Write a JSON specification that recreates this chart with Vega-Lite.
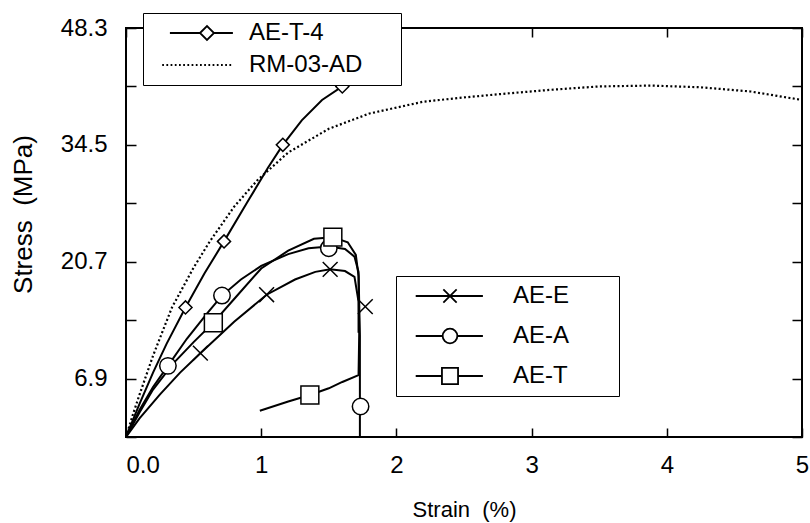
{
  "$schema": "https://vega.github.io/schema/vega-lite/v6.json",
  "width": 676,
  "height": 409,
  "autosize": {"type": "none"},
  "padding": {"left": 126, "top": 28, "right": 8, "bottom": 86},
  "background": "white",
  "config": {
    "view": {"stroke": "black", "strokeWidth": 2},
    "font": "Liberation Sans",
    "axis": {"domain": false, "ticks": false, "grid": true, "gridColor": "black", "gridOpacity": 1, "gridWidth": 1.5, "labelColor": "black", "titleColor": "black", "labelFont": "Liberation Sans", "titleFont": "Liberation Sans", "labelFontSize": 24, "titleFontSize": 22, "titleFontWeight": "normal", "labelFlush": false, "labelOverlap": false}
  },
  "datasets": {
    "curves": [
      {"series": "AE-T-4", "i": 0, "strain": 0, "stress": 0},
      {"series": "AE-T-4", "i": 1, "strain": 0.1, "stress": 3.9},
      {"series": "AE-T-4", "i": 2, "strain": 0.2, "stress": 7.6},
      {"series": "AE-T-4", "i": 3, "strain": 0.3, "stress": 11.0},
      {"series": "AE-T-4", "i": 4, "strain": 0.44, "stress": 15.3},
      {"series": "AE-T-4", "i": 5, "strain": 0.58, "stress": 19.3},
      {"series": "AE-T-4", "i": 6, "strain": 0.725, "stress": 23.1},
      {"series": "AE-T-4", "i": 7, "strain": 0.9, "stress": 27.8},
      {"series": "AE-T-4", "i": 8, "strain": 1.05, "stress": 31.8},
      {"series": "AE-T-4", "i": 9, "strain": 1.16, "stress": 34.5},
      {"series": "AE-T-4", "i": 10, "strain": 1.3, "stress": 37.4},
      {"series": "AE-T-4", "i": 11, "strain": 1.45, "stress": 39.8},
      {"series": "AE-T-4", "i": 12, "strain": 1.6, "stress": 41.4},
      {"series": "AE-T-4", "i": 13, "strain": 1.72, "stress": 42.1},
      {"series": "RM-03-AD", "i": 0, "strain": 0, "stress": 0},
      {"series": "RM-03-AD", "i": 1, "strain": 0.05, "stress": 2.6},
      {"series": "RM-03-AD", "i": 2, "strain": 0.1, "stress": 5.0},
      {"series": "RM-03-AD", "i": 3, "strain": 0.2, "stress": 9.6},
      {"series": "RM-03-AD", "i": 4, "strain": 0.34, "stress": 15.3},
      {"series": "RM-03-AD", "i": 5, "strain": 0.5, "stress": 20.0},
      {"series": "RM-03-AD", "i": 6, "strain": 0.62, "stress": 23.1},
      {"series": "RM-03-AD", "i": 7, "strain": 0.8, "stress": 27.2},
      {"series": "RM-03-AD", "i": 8, "strain": 0.97, "stress": 30.3},
      {"series": "RM-03-AD", "i": 9, "strain": 1.2, "stress": 33.6},
      {"series": "RM-03-AD", "i": 10, "strain": 1.5, "stress": 36.4},
      {"series": "RM-03-AD", "i": 11, "strain": 1.8, "stress": 38.2},
      {"series": "RM-03-AD", "i": 12, "strain": 2.2, "stress": 39.6},
      {"series": "RM-03-AD", "i": 13, "strain": 2.5, "stress": 40.1},
      {"series": "RM-03-AD", "i": 14, "strain": 2.77, "stress": 40.5},
      {"series": "RM-03-AD", "i": 15, "strain": 3.14, "stress": 41.0},
      {"series": "RM-03-AD", "i": 16, "strain": 3.5, "stress": 41.4},
      {"series": "RM-03-AD", "i": 17, "strain": 3.88, "stress": 41.5},
      {"series": "RM-03-AD", "i": 18, "strain": 4.25, "stress": 41.3},
      {"series": "RM-03-AD", "i": 19, "strain": 4.62, "stress": 40.8},
      {"series": "RM-03-AD", "i": 20, "strain": 5.0, "stress": 39.8},
      {"series": "AE-E", "i": 0, "strain": 0, "stress": 0},
      {"series": "AE-E", "i": 1, "strain": 0.1, "stress": 2.2},
      {"series": "AE-E", "i": 2, "strain": 0.25, "stress": 5.0},
      {"series": "AE-E", "i": 3, "strain": 0.4, "stress": 7.6},
      {"series": "AE-E", "i": 4, "strain": 0.55, "stress": 9.9},
      {"series": "AE-E", "i": 5, "strain": 0.8, "stress": 13.6},
      {"series": "AE-E", "i": 6, "strain": 1.04, "stress": 16.8},
      {"series": "AE-E", "i": 7, "strain": 1.25, "stress": 18.6},
      {"series": "AE-E", "i": 8, "strain": 1.4, "stress": 19.5},
      {"series": "AE-E", "i": 9, "strain": 1.51, "stress": 19.8},
      {"series": "AE-E", "i": 10, "strain": 1.62, "stress": 19.6},
      {"series": "AE-E", "i": 11, "strain": 1.69, "stress": 18.9},
      {"series": "AE-E", "i": 12, "strain": 1.72, "stress": 16.0},
      {"series": "AE-E", "i": 13, "strain": 1.72, "stress": 12.3},
      {"series": "AE-A", "i": 0, "strain": 0, "stress": 0},
      {"series": "AE-A", "i": 1, "strain": 0.1, "stress": 3.2},
      {"series": "AE-A", "i": 2, "strain": 0.2, "stress": 5.9},
      {"series": "AE-A", "i": 3, "strain": 0.31, "stress": 8.4},
      {"series": "AE-A", "i": 4, "strain": 0.45, "stress": 11.6},
      {"series": "AE-A", "i": 5, "strain": 0.6, "stress": 14.6},
      {"series": "AE-A", "i": 6, "strain": 0.71, "stress": 16.7},
      {"series": "AE-A", "i": 7, "strain": 0.85, "stress": 18.6},
      {"series": "AE-A", "i": 8, "strain": 1.0, "stress": 20.2},
      {"series": "AE-A", "i": 9, "strain": 1.2, "stress": 21.6},
      {"series": "AE-A", "i": 10, "strain": 1.35, "stress": 22.3},
      {"series": "AE-A", "i": 11, "strain": 1.5, "stress": 22.5},
      {"series": "AE-A", "i": 12, "strain": 1.62, "stress": 22.2},
      {"series": "AE-A", "i": 13, "strain": 1.69, "stress": 21.3},
      {"series": "AE-A", "i": 14, "strain": 1.72, "stress": 19.5},
      {"series": "AE-A", "i": 15, "strain": 1.73, "stress": 12.0},
      {"series": "AE-A", "i": 16, "strain": 1.73, "stress": 0},
      {"series": "AE-T", "i": 0, "strain": 0, "stress": 0},
      {"series": "AE-T", "i": 1, "strain": 0.1, "stress": 2.9},
      {"series": "AE-T", "i": 2, "strain": 0.2, "stress": 5.6},
      {"series": "AE-T", "i": 3, "strain": 0.35, "stress": 8.7},
      {"series": "AE-T", "i": 4, "strain": 0.5, "stress": 11.2},
      {"series": "AE-T", "i": 5, "strain": 0.646, "stress": 13.5},
      {"series": "AE-T", "i": 6, "strain": 0.8, "stress": 16.3},
      {"series": "AE-T", "i": 7, "strain": 1.0, "stress": 19.9},
      {"series": "AE-T", "i": 8, "strain": 1.2, "stress": 22.0},
      {"series": "AE-T", "i": 9, "strain": 1.39, "stress": 23.4},
      {"series": "AE-T", "i": 10, "strain": 1.53, "stress": 23.6},
      {"series": "AE-T", "i": 11, "strain": 1.64, "stress": 23.0},
      {"series": "AE-T", "i": 12, "strain": 1.7, "stress": 21.5},
      {"series": "AE-T", "i": 13, "strain": 1.72, "stress": 19.0},
      {"series": "AE-T", "i": 14, "strain": 1.725, "stress": 12.2},
      {"series": "AE-T", "i": 15, "strain": 1.72, "stress": 7.3},
      {"series": "AE-T", "i": 16, "strain": 1.6, "stress": 6.5},
      {"series": "AE-T", "i": 17, "strain": 1.5, "stress": 5.75},
      {"series": "AE-T", "i": 18, "strain": 1.36, "stress": 4.96},
      {"series": "AE-T", "i": 19, "strain": 1.2, "stress": 4.2},
      {"series": "AE-T", "i": 20, "strain": 0.99, "stress": 3.1}
    ],
    "markers": [
      {"series": "AE-T-4", "strain": 0.44, "stress": 15.3},
      {"series": "AE-T-4", "strain": 0.725, "stress": 23.1},
      {"series": "AE-T-4", "strain": 1.16, "stress": 34.5},
      {"series": "AE-T-4", "strain": 1.6, "stress": 41.4},
      {"series": "AE-E", "strain": 0.55, "stress": 9.9},
      {"series": "AE-E", "strain": 1.04, "stress": 16.8},
      {"series": "AE-E", "strain": 1.51, "stress": 19.8},
      {"series": "AE-E", "strain": 1.77, "stress": 15.4},
      {"series": "AE-A", "strain": 0.31, "stress": 8.4},
      {"series": "AE-A", "strain": 0.71, "stress": 16.7},
      {"series": "AE-A", "strain": 1.5, "stress": 22.3},
      {"series": "AE-A", "strain": 1.735, "stress": 3.6},
      {"series": "AE-T", "strain": 0.646, "stress": 13.5},
      {"series": "AE-T", "strain": 1.53, "stress": 23.6},
      {"series": "AE-T", "strain": 1.36, "stress": 4.96}
    ]
  },
  "layer": [
    {
      "data": {"name": "curves"},
      "transform": [{"filter": "datum.series != 'RM-03-AD'"}],
      "mark": {"type": "line", "color": "black", "strokeWidth": 2, "clip": true},
      "encoding": {
        "x": {"field": "strain", "type": "quantitative", "scale": {"domain": [0, 5], "nice": false},
          "axis": {"orient": "bottom", "values": [0, 1, 2, 3, 4, 5], "gridDash": [9, 391], "labelPadding": 16,
            "labelExpr": "datum.value == 0 ? '0.0' : format(datum.value, 'd')",
            "labelAlign": {"condition": {"test": "datum.value == 0", "value": "left"}, "value": "center"},
            "title": "Strain\u00a0 (%)", "titlePadding": 22}},
        "y": {"field": "stress", "type": "quantitative", "scale": {"domain": [0, 48.3], "nice": false},
          "axis": {"orient": "left", "values": [0, 6.9, 13.8, 20.7, 27.6, 34.5, 41.4, 48.3], "gridDash": [10, 656], "labelPadding": 19,
            "labelExpr": "indexof([6.9, 20.7, 34.5, 48.3], datum.value) >= 0 ? format(datum.value, '.1f') : ''",
            "title": "Stress\u00a0 (MPa)", "titleFontSize": 26, "titlePadding": 24, "titleY": 186}},
        "detail": {"field": "series"},
        "order": {"field": "i", "type": "quantitative"}
      }
    },
    {
      "data": {"name": "curves"},
      "transform": [{"filter": "datum.series == 'RM-03-AD'"}],
      "mark": {"type": "line", "color": "black", "strokeWidth": 2.2, "strokeDash": [2, 2.4], "clip": true},
      "encoding": {
        "x": {"field": "strain", "type": "quantitative", "scale": {"domain": [0, 5], "nice": false},
          "axis": {"orient": "bottom", "values": [0, 0.2, 0.4, 0.6, 0.8, 1, 1.2, 1.4, 1.6, 1.8, 2, 2.2, 2.4, 2.6, 2.8, 3, 3.2, 3.4, 3.6, 3.8, 4, 4.2, 4.4, 4.6, 4.8, 5], "gridDash": [4.5, 400], "labels": false, "title": null}},
        "y": {"field": "stress", "type": "quantitative", "scale": {"domain": [0, 48.3], "nice": false},
          "axis": {"orient": "left", "values": [0, 1.38, 2.76, 4.14, 5.52, 6.9, 8.28, 9.66, 11.04, 12.42, 13.8, 15.18, 16.56, 17.94, 19.32, 20.7, 22.08, 23.46, 24.84, 26.22, 27.6, 28.98, 30.36, 31.74, 33.12, 34.5, 35.88, 37.26, 38.64, 40.02, 41.4, 42.78, 44.16, 45.54, 46.92, 48.3], "gridDash": [5, 666], "labels": false, "title": null}},
        "order": {"field": "i", "type": "quantitative"}
      }
    },
    {
      "data": {"name": "markers"},
      "mark": {"type": "point", "filled": true, "fill": "white", "stroke": "black", "strokeWidth": 1.5, "opacity": 1},
      "encoding": {
        "x": {"field": "strain", "type": "quantitative", "scale": {"domain": [0, 5], "nice": false}, "axis": null},
        "y": {"field": "stress", "type": "quantitative", "scale": {"domain": [0, 48.3], "nice": false}, "axis": null},
        "shape": {"field": "series", "type": "nominal", "legend": null,
          "scale": {"domain": ["AE-T-4", "AE-E", "AE-A", "AE-T"], "range": ["diamond", "M-1,-1L1,1M-1,1L1,-1", "circle", "square"]}},
        "size": {"field": "series", "type": "nominal", "legend": null,
          "scale": {"domain": ["AE-T-4", "AE-E", "AE-A", "AE-T"], "range": [170, 320, 220, 220]}}
      }
    },
    {
      "data": {"name": "markers"},
      "transform": [{"filter": "datum.series == 'AE-T-4'"}],
      "mark": {"type": "point", "filled": false, "stroke": "black", "color": "black", "opacity": 0},
      "encoding": {
        "x": {"field": "strain", "type": "quantitative", "scale": {"domain": [0, 5], "nice": false}, "axis": null},
        "y": {"field": "stress", "type": "quantitative", "scale": {"domain": [0, 48.3], "nice": false}, "axis": null},
        "shape": {"field": "series", "type": "nominal",
          "scale": {"domain": ["AE-T-4", "RM-03-AD"], "range": [
            "M-5.3,0L-1,0M1,0L3.7,0M-1,0L0,-1L1,0L0,1ZM26,0",
            "M-6.4,0L-6.15,0M-5.8,0L-5.55,0M-5.2,0L-4.95,0M-4.6,0L-4.35,0M-4,0L-3.75,0M-3.4,0L-3.15,0M-2.8,0L-2.55,0M-2.2,0L-1.95,0M-1.6,0L-1.35,0M-1,0L-0.75,0M-0.4,0L-0.15,0M0.2,0L0.45,0M0.8,0L1.05,0M1.4,0L1.65,0M2,0L2.25,0M2.6,0L2.85,0M3.2,0L3.45,0M26,0"]},
          "legend": {"orient": "none", "legendX": 17, "legendY": -15, "title": null, "padding": 8, "rowPadding": 8,
            "symbolSize": 196, "symbolOffset": 44, "labelOffset": 30, "symbolOpacity": 1, "symbolStrokeColor": "black", "symbolFillColor": "white", "symbolStrokeWidth": 1.8,
            "labelFontSize": 24, "labelFont": "Liberation Sans", "labelColor": "black", "strokeColor": "black", "fillColor": "white"}}
      }
    },
    {
      "data": {"name": "markers"},
      "transform": [{"filter": "datum.series != 'AE-T-4'"}],
      "mark": {"type": "point", "filled": false, "stroke": "black", "color": "black", "opacity": 0},
      "encoding": {
        "x": {"field": "strain", "type": "quantitative", "scale": {"domain": [0, 5], "nice": false}, "axis": null},
        "y": {"field": "stress", "type": "quantitative", "scale": {"domain": [0, 48.3], "nice": false}, "axis": null},
        "shape": {"field": "series", "type": "nominal",
          "scale": {"domain": ["AE-E", "AE-A", "AE-T"], "range": [
            "M-4.9,0L4.7,0M-0.95,-0.95L0.95,0.95M-0.95,0.95L0.95,-0.95M22.4,0",
            "M-4.9,0L-1.05,0M1.05,0L4.7,0M-1.05,0A1.05,1.05,0,1,1,1.05,0A1.05,1.05,0,1,1,-1.05,0ZM22.4,0",
            "M-4.9,0L-1.15,0M1.15,0L4.7,0M-1.15,-1.15L1.15,-1.15L1.15,1.15L-1.15,1.15ZM22.4,0"]},
          "legend": {"orient": "none", "legendX": 270, "legendY": 248, "title": null, "padding": 8, "rowPadding": 16,
            "symbolSize": 196, "symbolOffset": 34, "labelOffset": 51, "symbolOpacity": 1, "symbolStrokeColor": "black", "symbolFillColor": "white", "symbolStrokeWidth": 1.8,
            "labelFontSize": 24, "labelFont": "Liberation Sans", "labelColor": "black", "strokeColor": "black", "fillColor": "white"}}
      }
    }
  ],
  "resolve": {
    "scale": {"shape": "independent", "size": "independent"},
    "axis": {"x": "independent", "y": "independent"},
    "legend": {"shape": "independent"}
  }
}
